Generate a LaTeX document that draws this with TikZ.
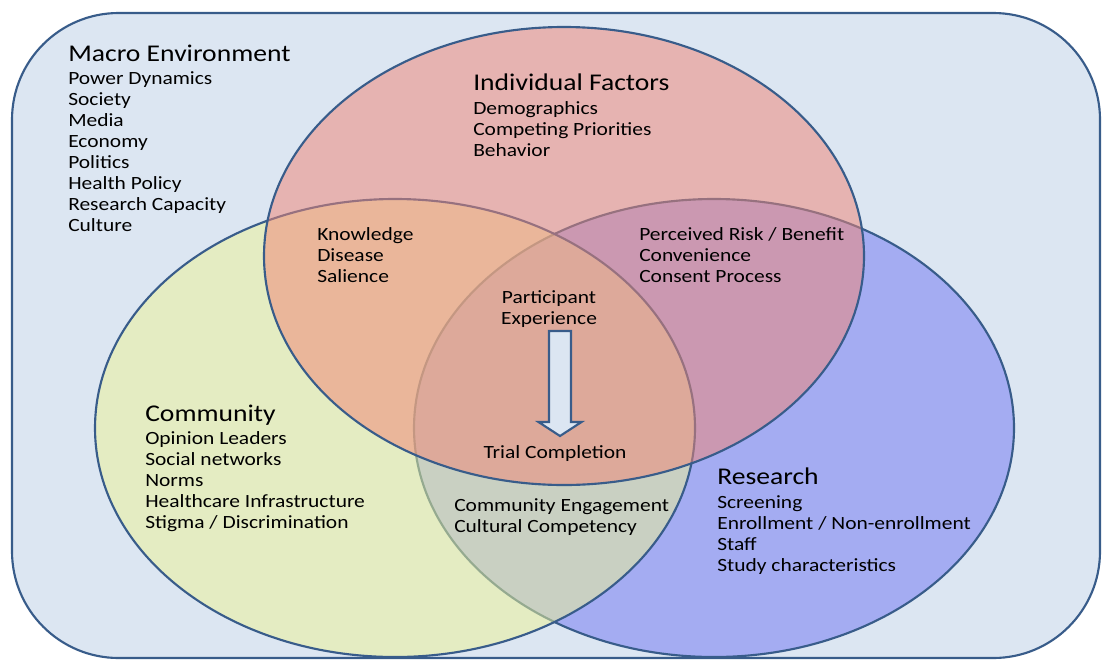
\documentclass[tikz,border=0pt]{standalone}
\usepackage{fontspec}
\setmainfont{Carlito}[FakeStretch=1.15]
\usetikzlibrary{calc,shapes.geometric,positioning}
\definecolor{macrobg}{RGB}{220,230,242}
\definecolor{vennline}{RGB}{56,92,138}
\definecolor{indivfill}{RGB}{240,134,118}
\definecolor{commfill}{RGB}{236,242,150}
\definecolor{resfill}{RGB}{114,120,242}
\tikzset{
    venn/.style={
    ellipse,draw=vennline,line width=1.6pt,fill opacity=0.52,inner sep=0pt,
    minimum width=450pt,minimum height=343.5pt
    },
    heading/.style={
    anchor=base west,inner sep=0pt,font=\fontsize{18}{21}\selectfont
    },
    factors/.style={
    anchor=north west,inner sep=0pt,align=left,font=\fontsize{14}{15.8}\selectfont
    },
    midfactors/.style={
    anchor=north,inner sep=0pt,align=center,font=\fontsize{14}{15.8}\selectfont
    },
    blockarrow/.style={
    draw=vennline,fill=macrobg,line width=1.6pt,line join=miter
    },
}
\begin{document}
\begin{tikzpicture}[x=0.75pt, y=-0.75pt]
  \useasboundingbox (0,0) rectangle (1106,664);
  % macro environment
  \draw[draw=vennline,fill=macrobg,line width=1.6pt,rounded corners=80pt] (12,13) rectangle (1100,658);
  % the three circles
  \node[venn,fill=resfill] (res) at (714,428) {};
  \node[venn,fill=commfill] (comm) at (395,428) {};
  \node[venn,fill=indivfill] (indiv) at (564,256) {};

  \node[heading] (macrohead) at (68,61) {Macro Environment};
  \node[factors] (macrolist) at (68,71) {Power Dynamics\\Society\\Media\\Economy\\Politics\\Health Policy\\Research Capacity\\Culture};

  \node[heading] (indivhead) at (473,90) {Individual Factors};
  \node[factors] (indivlist) at (473,101) {Demographics\\Competing Priorities\\Behavior};

  \node[factors] (knowlist) at (317,227) {Knowledge\\Disease\\Salience};
  \node[factors] (risklist) at (639,227) {Perceived Risk / Benefit\\Convenience\\Consent Process};

  \node[heading] (commhead) at (145,421) {Community};
  \node[factors] (commlist) at (145,431) {Opinion Leaders\\Social networks\\Norms\\Healthcare Infrastructure\\Stigma / Discrimination};

  \node[factors] (englist) at (454,498) {Community Engagement\\Cultural Competency};

  \node[heading] (reshead) at (717,484) {Research};
  \node[factors] (reslist) at (717,495) {Screening\\Enrollment / Non-enrollment\\Staff\\Study characteristics};

  \node[midfactors] (experience) at (549,290) {Participant\\Experience};
  \node[midfactors] (completion) at (555,445) {Trial Completion};

  % experience leads to completion
  \coordinate (arrowtop) at (560,331);
  \coordinate (arrowtip) at (560,436);
  \draw[blockarrow] ($(arrowtop)+(-11,0)$) -- ($(arrowtop)+(11,0)$) -- ($(arrowtip)+(11,-14)$)
    -- ($(arrowtip)+(21.5,-14)$) -- (arrowtip) -- ($(arrowtip)+(-21.5,-14)$) -- ($(arrowtip)+(-11,-14)$) -- cycle;
\end{tikzpicture}
\end{document}
